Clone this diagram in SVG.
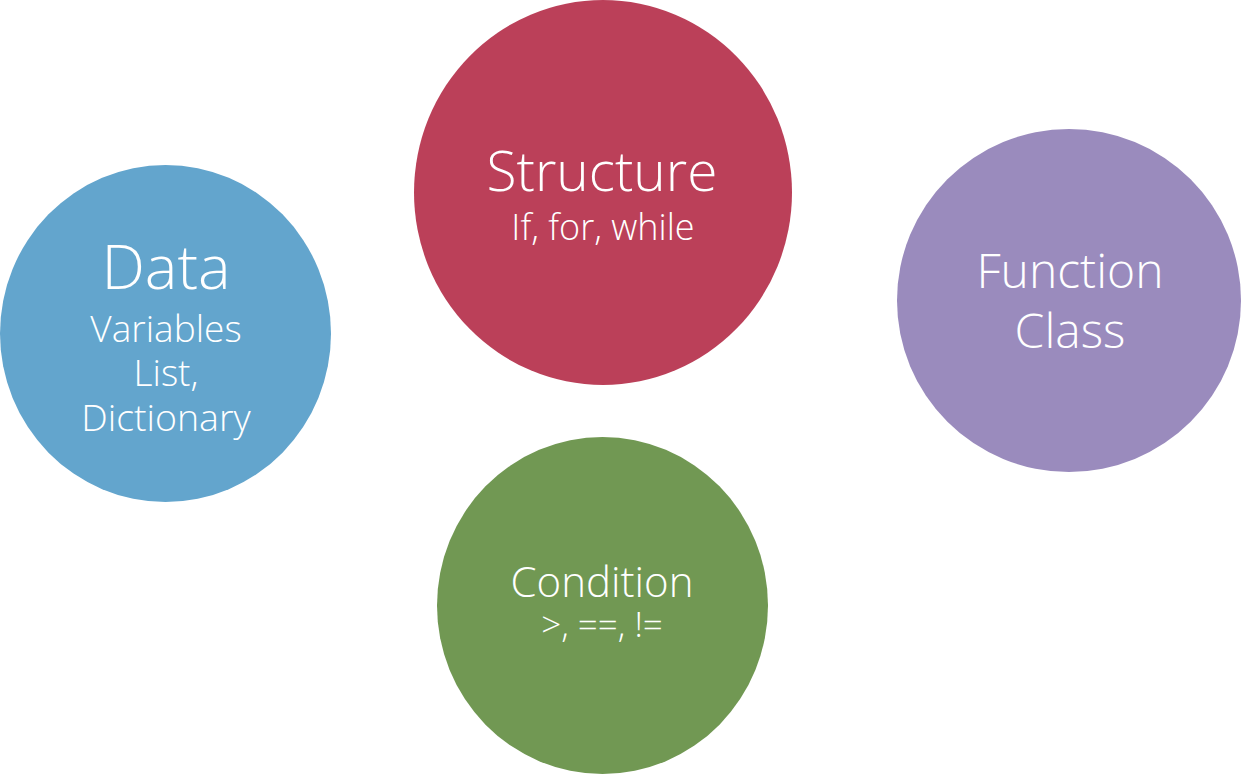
<svg xmlns="http://www.w3.org/2000/svg" width="1241" height="774" viewBox="0 0 1241 774">
<style>
text { font-family: "Open Sans", "Lato", "Liberation Sans", sans-serif; font-weight: 300; fill: #ffffff; text-anchor: middle; }
</style>
<rect width="1241" height="774" fill="#ffffff"/>
<g id="node-data">
<ellipse cx="165.5" cy="333.5" rx="165.5" ry="168.5" fill="#63A5CD"/>
<text x="166" y="289" font-size="61.5">Data</text>
<text x="166" y="342" font-size="37">Variables</text>
<text x="166" y="386" font-size="37">List,</text>
<text x="166" y="431" font-size="37.5">Dictionary</text>
</g>
<g id="node-structure">
<ellipse cx="603" cy="192.5" rx="189" ry="192.5" fill="#BB4059"/>
<text x="602" y="191" font-size="55">Structure</text>
<text x="603" y="240" font-size="36">If, for, while</text>
</g>
<g id="node-function">
<ellipse cx="1069" cy="300.5" rx="172" ry="171.5" fill="#9A8BBD"/>
<text x="1070" y="288" font-size="48">Function</text>
<text x="1070" y="348" font-size="48">Class</text>
</g>
<g id="node-condition">
<ellipse cx="602.5" cy="605.5" rx="165.5" ry="168.5" fill="#719853"/>
<text x="602" y="597" font-size="42">Condition</text>
<text x="602" y="637" font-size="35">&gt;, ==, !=</text>
</g>
<g id="connectors"></g>
</svg>
